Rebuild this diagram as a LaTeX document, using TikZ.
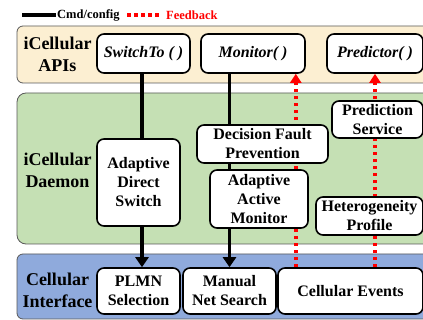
\documentclass[tikz,border=0pt]{standalone}
\usepackage{fontspec}
\setmainfont{Liberation Serif}
\usetikzlibrary{arrows.meta}
\definecolor{apiorange}{HTML}{FCEFD2}
\definecolor{daemongreen}{HTML}{C5E0B4}
\definecolor{ifaceblue}{HTML}{8FAADC}
\pgfdeclarelayer{panels}
\pgfdeclarelayer{wires}
\pgfsetlayers{panels,wires,main}

\begin{document}
\begin{tikzpicture}[x=1pt, y=-1pt,
    panel/.style = {draw=black!65, line width=0.8pt, rounded corners=6pt},
    box/.style = {draw, fill=white, line width=1.6pt, rounded corners=7pt, align=center, inner sep=0pt, font=\bfseries\fontsize{16}{19}\selectfont},
    tier/.style = {align=center, font=\bfseries\fontsize{18}{22}\selectfont},
    cmd/.style = {line width=3.6pt},
    feedback/.style = {red, line width=3.6pt, dash pattern=on 3.5pt off 3.5pt}]
              \useasboundingbox (0,0) rectangle (423,320);

              % legend
              \coordinate (cmdstart) at (22,15);
              \node (cmdtext) at (56,15) [anchor=west, inner sep=1pt, font=\bfseries\fontsize{12.5}{14}\selectfont] {Cmd/config};
              \draw [cmd] (cmdstart) -- (cmdtext.west);
              \coordinate (fbstart) at (127,15);
              \node (fbtext) at (165,15) [anchor=west, inner sep=1pt, red, font=\bfseries\fontsize{12.5}{14}\selectfont] {Feedback};
              \draw [feedback] (fbstart) -- ([xshift=-3pt]fbtext.west);

              % the three tiers
              \begin{pgfonlayer}{panels}
              \draw [panel, fill=apiorange] (17,26) rectangle (440,83);
              \draw [panel, fill=daemongreen, rounded corners=9pt] (17,93) rectangle (440,244);
              \draw [panel, fill=ifaceblue] (17,254) rectangle (440,319);
              \end{pgfonlayer}

              \node (apis) at (57.5,54) [tier] {iCellular\\APIs};
              \node (daemon) at (57.5,170) [tier] {iCellular\\Daemon};
              \node (iface) at (57.5,290.5) [tier] {Cellular\\Interface};

              % APIs
              \node (switchto) at (143.5,53.5) [box, minimum width=93pt, minimum height=39pt] {\textit{SwitchTo ( )}};
              \node (monitor) at (253,53.5) [box, minimum width=104pt, minimum height=39pt] {\textit{Monitor( )}};
              \node (predictor) at (375,53.5) [box, minimum width=96pt, minimum height=39pt] {\textit{Predictor( )}};

              % daemon
              \node (switch) at (138.5,182.5) [box, minimum width=83pt, minimum height=87pt] {Adaptive\\Direct\\Switch};
              \node (fault) at (262.5,144) [box, minimum width=131pt, minimum height=38pt] {Decision Fault\\Prevention};
              \node (active) at (259,199) [box, minimum width=98pt, minimum height=58pt] {Adaptive\\Active\\Monitor};
              \node (predict) at (377.5,119.5) [box, minimum width=91pt, minimum height=37pt] {Prediction\\Service};
              \node (profile) at (369.5,216) [box, minimum width=107pt, minimum height=38pt] {Heterogeneity\\Profile};

              % interface
              \node (plmn) at (138.5,291) [box, minimum width=83pt, minimum height=46pt] {PLMN\\Selection};
              \node (search) at (229.5,291) [box, minimum width=93pt, minimum height=46pt] {Manual\\Net Search};
              \node (events) at (350.5,291) [box, minimum width=145pt, minimum height=46pt] {Cellular Events};

              % connectors, behind the boxes
              \begin{pgfonlayer}{wires}
              \draw [cmd, -{Triangle[length=10pt, width=13pt]}] ([xshift=-1.5pt]switchto.south) -- ([xshift=-1.5pt]switchto.south |- plmn.north);
              \draw [cmd, -{Triangle[length=10pt, width=13pt]}] (search.north |- monitor.south) -- (search.north);
              \draw [feedback, -{Triangle[length=9pt, width=11pt]}] ([xshift=-10pt]monitor.south east |- events.north) -- ([xshift=-10pt]monitor.south east);
              \draw [feedback, -{Triangle[length=9pt, width=11pt]}] (predictor.south |- events.north) -- (predictor.south);
              \end{pgfonlayer}
            \end{tikzpicture}
\end{document}
